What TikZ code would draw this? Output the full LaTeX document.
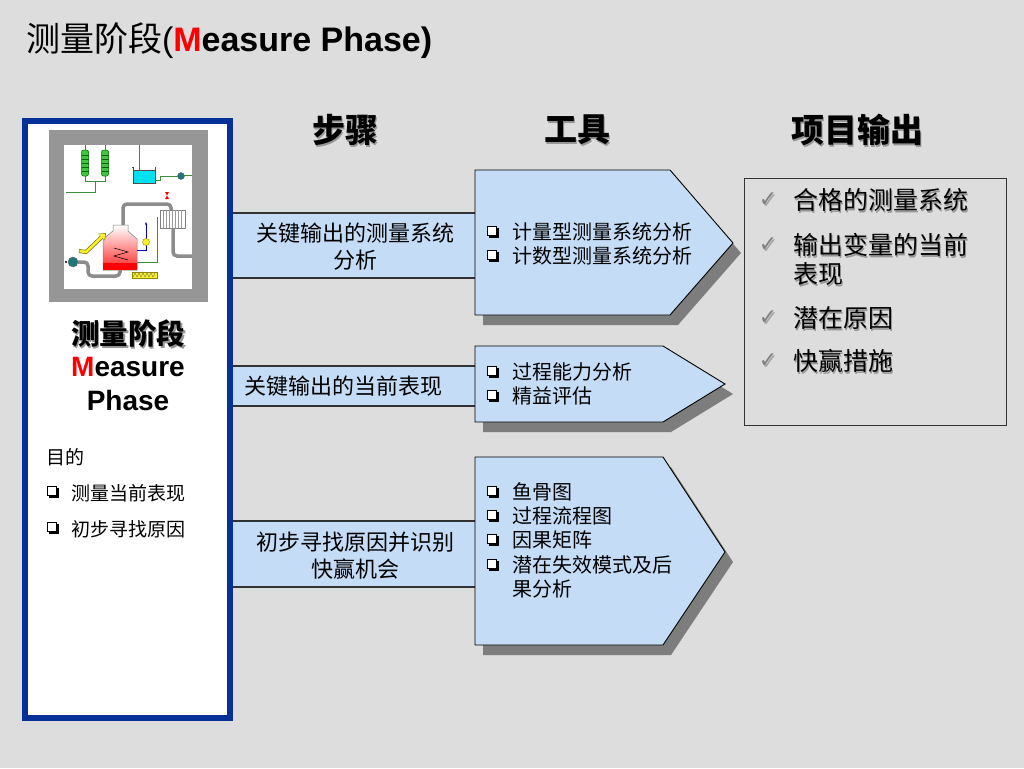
\documentclass[tikz,border=0pt]{standalone}
\usepackage{fontspec}
\setmainfont{Liberation Sans}
\newfontfamily\cjk{Noto Sans CJK SC}
\newfontfamily\dv{DejaVu Sans}
\usetikzlibrary{arrows.meta}
\definecolor{bg}{RGB}{221,221,221}
\definecolor{panelblue}{RGB}{4,48,152}
\definecolor{lightblue}{RGB}{197,220,246}
\definecolor{shadowgray}{RGB}{125,125,125}
\definecolor{txtshadow}{RGB}{150,150,150}
\definecolor{framegray}{RGB}{150,150,150}
\definecolor{pipegray}{RGB}{140,140,140}
\definecolor{pipegreen}{RGB}{60,140,60}
\definecolor{colgreen}{RGB}{60,200,60}
\definecolor{tankcyan}{RGB}{0,225,240}
\definecolor{pumpteal}{RGB}{30,120,120}
\definecolor{yel}{RGB}{250,240,40}
\newcommand\qb{\tikz[x=1pt,y=1pt,baseline=0pt]{\fill[black] (2,2) rectangle (12,12); \filldraw[fill=white,draw=black,line width=1pt] (0.5,4.5) rectangle (9.5,13.5);}}
\newcommand\shnode[5]{%
  \node[txt,text=txtshadow,font=\cjk\bfseries\fontsize{#4}{#4}\selectfont] (#1s) at ({#2+1.8},{#3+1.8}) {#5};
  \node[txt,font=\cjk\bfseries\fontsize{#4}{#4}\selectfont] (#1) at (#2,#3) {#5};}
\newcommand\outitem[3]{%
  \node[txt,anchor=base west,text=txtshadow,font=\cjk\fontsize{25}{25}\selectfont] (#1s) at (794.8,{#2+9.5+1.8}) {#3};
  \node[txt,anchor=base west,font=\cjk\fontsize{25}{25}\selectfont] (#1) at (793,{#2+9.5}) {#3};}
\newcommand\chk[2]{%
  \node[txt,text=gray!70,font=\dv\fontsize{22}{22}\selectfont] (#1s) at (769.5,{#2+1.5}) {✓};
  \node[txt,text=gray,font=\dv\fontsize{22}{22}\selectfont] (#1) at (768,#2) {✓};}
\newcommand\titem[4]{%
  \node[txt,anchor=base west,font=\cjk\fontsize{20}{24}\selectfont] (#1) at (#2,{#3+7.6}) {\makebox[25pt][l]{\qb}#4};}
\begin{document}
\begin{tikzpicture}[x=1pt,y=-1pt,
  txt/.style={inner sep=0pt,outer sep=0pt},
  bartxt/.style={txt,align=center,font=\cjk\fontsize{22}{27}\selectfont},
  barline/.style={line width=1.3pt,draw=black!80},
  arrowbox/.style={fill=lightblue,draw=black,line width=0.9pt,line join=miter},
  arrowshadow/.style={fill=shadowgray},
  pipe/.style={line width=3.5pt,draw=pipegray,rounded corners=4pt},
  gline/.style={line width=0.8pt,draw=pipegreen}]
\useasboundingbox (0,0) rectangle (1024,768);
\fill[bg] (0,0) rectangle (1024,768);

% ---------- title ----------
\node[txt,anchor=base west,font=\bfseries\fontsize{34}{34}\selectfont] (title) at (26,52)
  {{\cjk\mdseries 测量阶段}{\mdseries(}\textcolor{red}{M}easure Phase)};

% ---------- column headers ----------
\shnode{h1}{345}{130}{33}{步骤}
\shnode{h2}{577}{130}{33}{工具}
\shnode{h3}{857}{130}{33}{项目输出}

% ---------- step bars ----------
\fill[lightblue] (232,213) rectangle (475,278);
\draw[barline] (232,213) -- (475,213) (232,278) -- (475,278);
\fill[lightblue] (232,366) rectangle (475,406);
\draw[barline] (232,366) -- (475,366) (232,406) -- (475,406);
\fill[lightblue] (232,521) rectangle (475,587);
\draw[barline] (232,521) -- (475,521) (232,587) -- (475,587);

\node[bartxt] (s1) at (355,246.5) {关键输出的测量系统\\分析};
\node[bartxt] (s2) at (343,386) {关键输出的当前表现};
\node[bartxt] (s3) at (355,555.5) {初步寻找原因并识别\\快赢机会};

% ---------- left panel ----------
\fill[white] (25,121) rectangle (230,718);
\draw[panelblue,line width=6.5pt] (25,121) rectangle (230,718);

% picture frame
\fill[framegray] (49,130) rectangle (208,302);
\fill[white] (64,145) rectangle (192,289);
\begin{scope}
\clip (64,145) rectangle (192,289);
% green columns
\draw[gline] (85,145) -- (85,151) (105,145) -- (105,151);
\draw[gline] (85,175) -- (85,181) -- (105,181) -- (105,175);
\draw[gline] (95,181) -- (95,192) -- (66,192);
\foreach \cx in {85,105}{
  \filldraw[fill=colgreen,draw=green!40!black,line width=0.5pt,rounded corners=2pt] ({\cx-3.5},150) rectangle ({\cx+3.5},176);
  \foreach \yy in {155,159,163,167,171}{\draw[green!35!black,line width=0.4pt] ({\cx-3.5},\yy) -- ({\cx+3.5},\yy);}
}
% tank
\draw[gline] (139,145) -- (139,170);
\filldraw[fill=tankcyan,draw=black!70,line width=0.5pt] (133,170) rectangle (155,183);
\draw[black!70,line width=0.5pt] (132,167) -- (133,167) -- (133,170) (155,170) -- (155,167) -- (156,167);
\draw[gline] (155,180) -- (160,180) -- (160,176) -- (178,176);
\filldraw[fill=pumpteal,draw=black!60,line width=0.4pt] (181,176) circle (3.5);
\draw[gline] (184,175) -- (193,175);
% red valve
\fill[red] (165,192) -- (169,192) -- (165,199) -- (169,199) -- cycle;
% top pipe
\draw[pipe] (123,228) -- (123,204) -- (171,204) -- (171,211);
% heat exchanger
\filldraw[fill=white,draw=black!50,line width=0.5pt] (160,210) rectangle (185,228);
\foreach \xx in {163,166,169,172,175,178,181}{\draw[black!40,line width=0.4pt] (\xx,210) -- (\xx,228);}
\draw[pipe] (173,228) -- (173,256) -- (193,256);
% green feed line
\draw[gline] (157,217) -- (157,262) -- (137,262);
% vessel
\shade[top color=white,bottom color=red!85,draw=black!50,line width=0.5pt]
  (113,225) -- (128,225) -- (128,231) -- (137,239) -- (137,270) -- (103,270) -- (103,239) -- (113,231) -- cycle;
\fill[red] (103,263) rectangle (137,270);
\draw[black,line width=0.5pt] (114,248) -- (128,252) -- (114,256) -- (128,260);
% yellow inlet arrow
\draw[line width=4pt,draw=olive!80!black,-{Triangle[length=6pt,width=9pt]}] (79,251) -- (86,252) -- (106,233);
\draw[line width=2.6pt,draw=yel,-{Triangle[length=5pt,width=7.5pt]}] (79.5,251) -- (86,252) -- (105.3,233.6);
% pump and bottom pipe
\draw[pipe] (78,262) -- (88,262) -- (88,276) -- (120,276) -- (120,270);
\filldraw[fill=pumpteal,draw=black!60,line width=0.4pt] (73,262) circle (5);
\fill[black] (66,262) circle (1.2);
% yellow spring
\filldraw[fill=yel,draw=olive,line width=0.4pt] (132,272) rectangle (157,278);
\draw[black!60,line width=0.4pt] (133,277) -- (135,273) -- (137,277) -- (139,273) -- (141,277) -- (143,273) -- (145,277) -- (147,273) -- (149,277) -- (151,273) -- (153,277) -- (155,273);
% blue control line and yellow device
\draw[blue!70!black,line width=1pt,-{Stealth[length=3pt]}] (137,250) -- (146,250) -- (146,222);
\filldraw[fill=yel,draw=olive,line width=0.4pt] (146,242) circle (3.5);
\end{scope}

\node[txt,text=txtshadow,font=\cjk\bfseries\fontsize{28.5}{28.5}\selectfont] (pts) at (129.6,335.6) {测量阶段};
\node[txt,font=\cjk\bfseries\fontsize{28.5}{28.5}\selectfont] (pt) at (128,334) {测量阶段};
\node[txt,anchor=base,font=\bfseries\fontsize{28}{28}\selectfont] (pm) at (128,376) {\textcolor{red}{M}easure};
\node[txt,anchor=base,font=\bfseries\fontsize{28}{28}\selectfont] (pp) at (128,410) {Phase};
\node[txt,anchor=west,font=\cjk\fontsize{19}{19}\selectfont] (goal) at (46,457) {目的};
\node[txt,anchor=base west,font=\cjk\fontsize{19}{19}\selectfont] (g1) at (47,500) {\makebox[24pt][l]{\qb}测量当前表现};
\node[txt,anchor=base west,font=\cjk\fontsize{19}{19}\selectfont] (g2) at (47,536) {\makebox[24pt][l]{\qb}初步寻找原因};

% ---------- tool arrows ----------
\begin{scope}[shift={(8,10)}]
\fill[arrowshadow] (475,170) -- (670,170) -- (733,243) -- (670,315) -- (475,315) -- cycle;
\fill[arrowshadow] (475,346) -- (663,346) -- (725,384) -- (663,422) -- (475,422) -- cycle;
\fill[arrowshadow] (475,457) -- (663,457) -- (725,552) -- (663,645) -- (475,645) -- cycle;
\end{scope}
\draw[arrowbox] (475,170) -- (670,170) -- (733,243) -- (670,315) -- (475,315) -- cycle;
\draw[arrowbox] (475,346) -- (663,346) -- (725,384) -- (663,422) -- (475,422) -- cycle;
\draw[arrowbox] (475,457) -- (663,457) -- (725,552) -- (663,645) -- (475,645) -- cycle;

\titem{t1a}{487}{232}{计量型测量系统分析}
\titem{t1b}{487}{256}{计数型测量系统分析}
\titem{t2a}{487}{372}{过程能力分析}
\titem{t2b}{487}{396}{精益评估}
\titem{t3a}{487}{492}{鱼骨图}
\titem{t3b}{487}{516}{过程流程图}
\titem{t3c}{487}{540}{因果矩阵}
\titem{t3d}{487}{565}{潜在失效模式及后}
\node[txt,anchor=base west,font=\cjk\fontsize{20}{24}\selectfont] (t3e) at (512,596.6) {果分析};

% ---------- outputs ----------
\draw[black!80,line width=1pt] (744,178) rectangle (1006,425);
\chk{c1}{200}
\chk{c2}{245}
\chk{c3}{318}
\chk{c4}{361}
\outitem{o1}{200}{合格的测量系统}
\outitem{o2}{245}{输出变量的当前}
\outitem{o2b}{274}{表现}
\outitem{o3}{318}{潜在原因}
\outitem{o4}{361}{快赢措施}
\end{tikzpicture}
\end{document}
